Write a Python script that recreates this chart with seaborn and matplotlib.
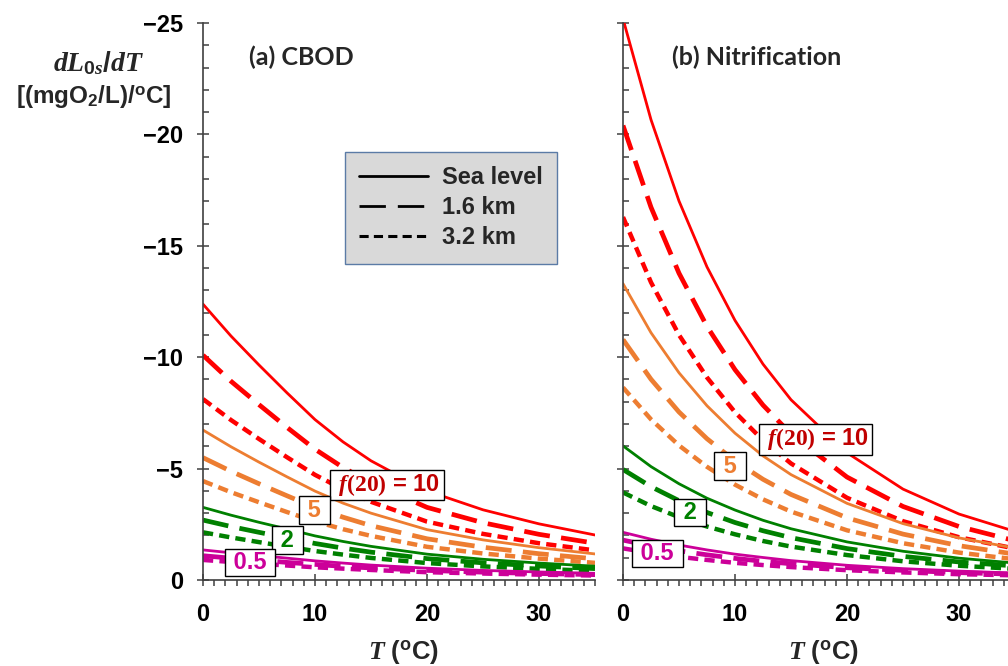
import matplotlib

matplotlib.use("Agg")
import matplotlib.pyplot as plt
import numpy as np
import pandas as pd
import seaborn as sns
from matplotlib.lines import Line2D
from matplotlib.ticker import MultipleLocator

T = [0, 2.5, 5, 7.5, 10, 12.5, 15, 20, 25, 30, 35]
f20_levels = ["10", "5", "2", "0.5"]
elevations = ["Sea level", "1.6 km", "3.2 km"]

# (a) CBOD: magnitude of dL0s/dT [(mgO2/L)/oC]
cbod_f10_sea = [12.38, 10.95, 9.65, 8.40, 7.20, 6.20, 5.35, 4.00, 3.15, 2.52, 2.02]
cbod_f10_16 = [10.09, 8.92, 7.87, 6.85, 5.87, 5.05, 4.36, 3.26, 2.57, 2.05, 1.65]
cbod_f10_32 = [8.12, 7.18, 6.33, 5.51, 4.72, 4.07, 3.51, 2.62, 2.07, 1.65, 1.33]
cbod_f5_sea = [6.73, 5.98, 5.29, 4.63, 3.99, 3.45, 3.00, 2.26, 1.80, 1.45, 1.17]
cbod_f5_16 = [5.49, 4.88, 4.32, 3.78, 3.25, 2.82, 2.44, 1.85, 1.47, 1.18, 0.95]
cbod_f5_32 = [4.44, 3.94, 3.49, 3.05, 2.63, 2.28, 1.98, 1.49, 1.19, 0.96, 0.77]
cbod_f2_sea = [3.26, 2.91, 2.59, 2.29, 1.98, 1.73, 1.51, 1.16, 0.93, 0.76, 0.62]
cbod_f2_16 = [2.69, 2.40, 2.14, 1.89, 1.64, 1.43, 1.25, 0.96, 0.77, 0.63, 0.51]
cbod_f2_32 = [2.14, 1.91, 1.70, 1.50, 1.30, 1.14, 0.99, 0.76, 0.61, 0.50, 0.41]
cbod_f05_sea = [1.35, 1.22, 1.10, 0.98, 0.86, 0.76, 0.67, 0.53, 0.43, 0.36, 0.30]
cbod_f05_16 = [1.09, 0.98, 0.89, 0.79, 0.70, 0.61, 0.54, 0.43, 0.35, 0.29, 0.24]
cbod_f05_32 = [0.90, 0.81, 0.73, 0.65, 0.57, 0.51, 0.45, 0.35, 0.29, 0.24, 0.20]

# (b) Nitrification
nit_f10_sea = [25.19, 20.66, 17.01, 14.05, 11.65, 9.69, 8.09, 5.71, 4.08, 2.96, 2.18]
nit_f10_16 = [20.40, 16.73, 13.77, 11.38, 9.44, 7.85, 6.55, 4.62, 3.30, 2.40, 1.76]
nit_f10_32 = [16.29, 13.36, 11.00, 9.09, 7.53, 6.27, 5.23, 3.69, 2.64, 1.92, 1.41]
nit_f5_sea = [13.30, 11.10, 9.30, 7.82, 6.59, 5.57, 4.73, 3.44, 2.53, 1.89, 1.43]
nit_f5_16 = [10.79, 9.01, 7.54, 6.34, 5.34, 4.52, 3.84, 2.79, 2.06, 1.54, 1.16]
nit_f5_32 = [8.64, 7.21, 6.04, 5.08, 4.28, 3.62, 3.07, 2.23, 1.65, 1.23, 0.93]
nit_f2_sea = [6.02, 5.09, 4.32, 3.67, 3.14, 2.68, 2.30, 1.71, 1.29, 0.98, 0.76]
nit_f2_16 = [4.96, 4.19, 3.56, 3.03, 2.58, 2.21, 1.90, 1.41, 1.06, 0.81, 0.63]
nit_f2_32 = [3.93, 3.32, 2.82, 2.40, 2.05, 1.75, 1.50, 1.12, 0.84, 0.64, 0.50]
nit_f05_sea = [2.14, 1.83, 1.57, 1.35, 1.16, 1.01, 0.87, 0.66, 0.51, 0.40, 0.31]
nit_f05_16 = [1.79, 1.53, 1.31, 1.13, 0.97, 0.84, 0.73, 0.55, 0.43, 0.33, 0.26]
nit_f05_32 = [1.42, 1.21, 1.04, 0.90, 0.77, 0.67, 0.58, 0.44, 0.34, 0.26, 0.21]

cbod_series = {
    ("10", "Sea level"): cbod_f10_sea, ("10", "1.6 km"): cbod_f10_16, ("10", "3.2 km"): cbod_f10_32,
    ("5", "Sea level"): cbod_f5_sea, ("5", "1.6 km"): cbod_f5_16, ("5", "3.2 km"): cbod_f5_32,
    ("2", "Sea level"): cbod_f2_sea, ("2", "1.6 km"): cbod_f2_16, ("2", "3.2 km"): cbod_f2_32,
    ("0.5", "Sea level"): cbod_f05_sea, ("0.5", "1.6 km"): cbod_f05_16, ("0.5", "3.2 km"): cbod_f05_32,
}
nit_series = {
    ("10", "Sea level"): nit_f10_sea, ("10", "1.6 km"): nit_f10_16, ("10", "3.2 km"): nit_f10_32,
    ("5", "Sea level"): nit_f5_sea, ("5", "1.6 km"): nit_f5_16, ("5", "3.2 km"): nit_f5_32,
    ("2", "Sea level"): nit_f2_sea, ("2", "1.6 km"): nit_f2_16, ("2", "3.2 km"): nit_f2_32,
    ("0.5", "Sea level"): nit_f05_sea, ("0.5", "1.6 km"): nit_f05_16, ("0.5", "3.2 km"): nit_f05_32,
}

palette = {"10": "#ff0000", "5": "#ed7d31", "2": "#008000", "0.5": "#cc0099"}
label_colors = {"10": "#c00000", "5": "#ed7d31", "2": "#008000", "0.5": "#cc0099"}
dashes = {"Sea level": "", "1.6 km": (5.5, 2.4), "3.2 km": (2.3, 1.4)}
widths = {"Sea level": 2.0, "1.6 km": 3.4, "3.2 km": 3.2}


def to_long(series):
    rows = []
    for (f, elev), vals in series.items():
        for t, v in zip(T, vals):
            rows.append({"T": t, "dLdT": -v, "f20": f, "elev": elev})
    return pd.DataFrame(rows)


sns.set_theme(style="ticks")
plt.rcParams["font.family"] = ["Liberation Sans", "DejaVu Sans"]
plt.rcParams["font.weight"] = "bold"
plt.rcParams["mathtext.fontset"] = "custom"
plt.rcParams["mathtext.it"] = "Liberation Serif:italic:bold"
plt.rcParams["mathtext.rm"] = "Liberation Sans:bold"
plt.rcParams["mathtext.bf"] = "Liberation Serif:bold"
plt.rcParams["lines.dash_capstyle"] = "butt"

W, H = 1008, 666
fig = plt.figure(figsize=(W / 100, H / 100), dpi=100, facecolor="white")
# axes placed in pixel terms; panel (b) runs past the right edge like the original
ax_a = fig.add_axes([203 / W, 1 - 580 / H, 392 / W, 557 / H])
ax_b = fig.add_axes([623 / W, 1 - 580 / H, 392 / W, 557 / H])

for ax, series in [(ax_a, cbod_series), (ax_b, nit_series)]:
    df = to_long(series)
    sns.lineplot(
        data=df, x="T", y="dLdT", hue="f20", style="elev", size="elev",
        hue_order=f20_levels, style_order=elevations, size_order=elevations,
        palette=palette, dashes=dashes, sizes=widths,
        errorbar=None, legend=False, ax=ax,
    )
    ax.set_xlim(0, 35)
    ax.set_ylim(0, -25)
    ax.set_xlabel("")
    ax.set_ylabel("")
    ax.set_facecolor("none")
    sns.despine(ax=ax)
    for side in ("left", "bottom"):
        ax.spines[side].set_color("#404040")
        ax.spines[side].set_linewidth(1.2)
    ax.xaxis.set_major_locator(MultipleLocator(10))
    ax.xaxis.set_minor_locator(MultipleLocator(1))
    ax.yaxis.set_major_locator(MultipleLocator(5))
    ax.yaxis.set_minor_locator(MultipleLocator(1))
    ax.tick_params(axis="both", which="both", colors="#404040", labelcolor="black", width=1.1)
    ax.tick_params(axis="y", which="major", direction="inout", length=8.6, pad=10, labelsize=17)
    ax.tick_params(axis="y", which="minor", direction="in", length=4)
    ax.tick_params(axis="x", which="major", direction="inout", length=8.6, pad=12, labelsize=17)
    ax.tick_params(axis="x", which="minor", direction="out", length=4)

ax_b.tick_params(axis="y", which="both", labelleft=False)

# curve labels, positioned in data coordinates
labels_a = [("10", 16.4, -4.26), ("5", 9.96, -3.14), ("2", 7.54, -1.79), ("0.5", 4.2, -0.78)]
labels_b = [("10", 17.19, -6.32), ("5", 9.55, -5.11), ("2", 5.98, -3.03), ("0.5", 3.08, -1.19)]
box = dict(boxstyle="square,pad=0.1", fc="white", ec="black", lw=1.0)
for ax, specs in [(ax_a, labels_a), (ax_b, labels_b)]:
    for f, tx, ty in specs:
        if f == "10":
            txt = r" $\mathit{f}\mathbf{(20)}$ = 10 "
        else:
            txt = " %s " % f
        ax.text(tx, ty, txt, color=label_colors[f], fontsize=17, fontweight="bold",
                ha="center", va="center", bbox=box, zorder=5)

# panel titles
fig.text(301 / W, 1 - 57 / H, "(a) CBOD", fontsize=18, fontweight="bold",
         family=["Lato", "DejaVu Sans"], ha="center", va="center")
fig.text(757 / W, 1 - 57 / H, "(b) Nitrification", fontsize=18, fontweight="bold",
         family=["Lato", "DejaVu Sans"], ha="center", va="center")

# y-axis title (two lines at the top left)
fig.text(99 / W, 1 - 63 / H, r"$\mathit{dL_{0s}/dT}$", fontsize=20, ha="center", va="center")
fig.text(94 / W, 1 - 97 / H, r"[(mgO$_2$/L)/$^{\mathrm{o}}$C]", fontsize=17.5,
         fontweight="bold", ha="center", va="center")

# x-axis titles
for xc in (404, 824):
    fig.text(xc / W, 1 - 652 / H, r"$\mathit{T}$ ($^{\mathrm{o}}$C)", fontsize=18.5,
             fontweight="bold", ha="center", va="center")

# elevation legend
handles = [
    Line2D([], [], color="black", lw=2.0, ls="-"),
    Line2D([], [], color="black", lw=2.0, ls=(0, (9.5, 4.3))),
    Line2D([], [], color="black", lw=2.2, ls=(0, (3.0, 1.7))),
]
leg = ax_a.legend(
    handles, elevations, loc="upper left",
    bbox_to_anchor=(345 / W, 1 - 152 / H), bbox_transform=fig.transFigure,
    frameon=True, fancybox=False, framealpha=1, facecolor="#d9d9d9", edgecolor="#5b7ba6",
    fontsize=17, handlelength=2.9, handletextpad=0.6, labelspacing=0.3,
    borderpad=0.6, borderaxespad=0,
)
leg.get_frame().set_linewidth(1.0)
for t in leg.get_texts():
    t.set_fontweight("bold")

fig.savefig("out.png", dpi=100, facecolor="white")
